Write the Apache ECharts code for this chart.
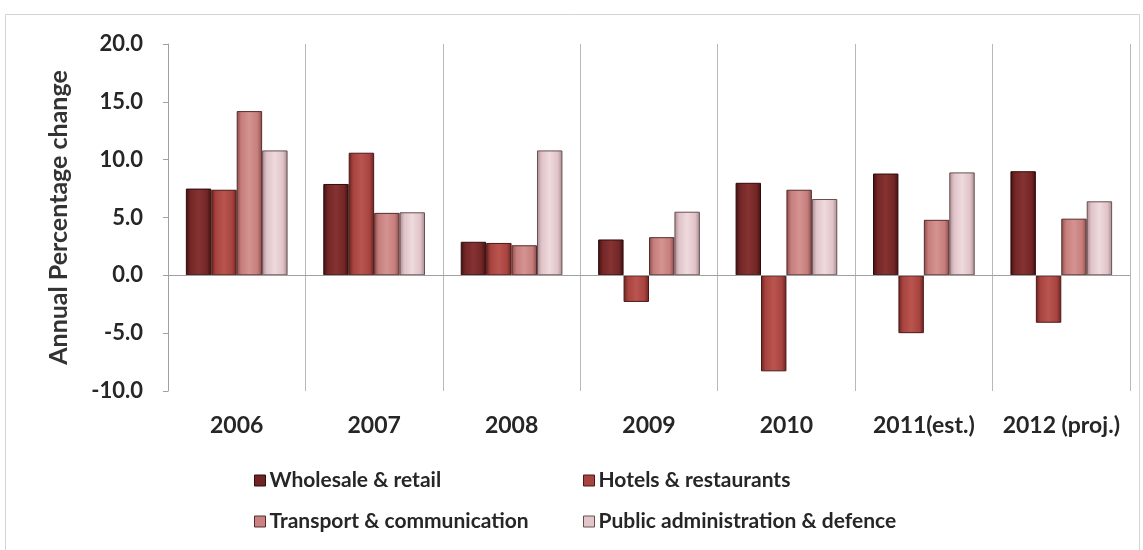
<!DOCTYPE html>
<html>
<head>
<meta charset="utf-8">
<script src="https://cdn.jsdelivr.net/npm/echarts@6/dist/echarts.min.js"></script>
<style>
  html, body { margin: 0; padding: 0; background: #ffffff; }
  #chart { width: 1143px; height: 550px; }
</style>
</head>
<body>
<div id="chart"></div>
<script>
// Annual percentage change by sector
const categories = ['2006', '2007', '2008', '2009', '2010', '2011(est.)', '2012 (proj.)'];
const wholesaleRetail = [7.5, 7.9, 2.9, 3.1, 8.0, 8.8, 9.0];
const hotelsRestaurants = [7.4, 10.6, 2.8, -2.3, -8.3, -5.0, -4.1];
const transportComm = [14.2, 5.4, 2.6, 3.3, 7.4, 4.8, 4.9];
const publicAdminDefence = [10.8, 5.45, 10.8, 5.5, 6.6, 8.9, 6.4];
const seriesNames = ['Wholesale & retail', 'Hotels & restaurants', 'Transport & communication', 'Public administration & defence'];
const yTicks = { min: -10, max: 20, interval: 5 };

const FONT = 'Lato, "Open Sans", sans-serif';

// shaded bar fill: dark edges, lighter centre
function shade(edge, mid, light) {
  return new echarts.graphic.LinearGradient(0, 0, 1, 0, [
    { offset: 0, color: edge },
    { offset: 0.18, color: mid },
    { offset: 0.5, color: light },
    { offset: 0.82, color: mid },
    { offset: 1, color: edge }
  ]);
}
const palettes = [
  { edge: '#3e1010', mid: '#742626', light: '#853232', border: '#2e0c0c' },
  { edge: '#6a2220', mid: '#a8443f', light: '#b9544f', border: '#4a1816' },
  { edge: '#8a4a49', mid: '#c67e7c', light: '#d49391', border: '#562c2c' },
  { edge: '#a68a8e', mid: '#e0c3c8', light: '#eedadd', border: '#66504f' }
];
const dataSets = [wholesaleRetail, hotelsRestaurants, transportComm, publicAdminDefence];

const series = dataSets.map((d, i) => ({
  name: seriesNames[i],
  type: 'bar',
  data: d,
  barGap: '0%',
  barCategoryGap: '26%',
  itemStyle: {
    color: shade(palettes[i].edge, palettes[i].mid, palettes[i].light),
    borderColor: palettes[i].border,
    borderWidth: 1
  },
  emphasis: { disabled: true },
  markLine: i === 0 ? {
    silent: true,
    symbol: 'none',
    label: { show: false },
    lineStyle: { color: '#a0a0a0', width: 1, type: 'solid' },
    data: [{ yAxis: 0 }]
  } : undefined
}));

// one legend block per entry, laid out as a 2 x 2 table
const legendPos = [
  { left: 254, top: 470 },
  { left: 583, top: 470 },
  { left: 254, top: 511 },
  { left: 583, top: 511 }
];
const legendColors = ['#702424', '#a8443f', '#c98280', '#e2c6ca'];
const legends = seriesNames.map((n, i) => ({
  data: [{ name: n, itemStyle: { color: legendColors[i], borderColor: palettes[i].border, borderWidth: 1 } }],
  left: legendPos[i].left,
  top: legendPos[i].top,
  orient: 'horizontal',
  icon: 'rect',
  itemWidth: 11,
  itemHeight: 11,
  itemGap: 4,
  selectedMode: false,
  padding: 0,
  textStyle: { fontFamily: FONT, fontWeight: 'bold', fontSize: 21, color: '#262626', padding: [0, 0, 0, -1] }
}));

const chart = echarts.init(document.getElementById('chart'), null, { renderer: 'canvas' });
chart.setOption({
  backgroundColor: '#ffffff',
  animation: false,
  graphic: [{
    type: 'rect',
    shape: { x: 5.5, y: 14.5, width: 1134, height: 540 },
    style: { fill: 'none', stroke: '#d4d4d4', lineWidth: 1 },
    silent: true,
    z: -1
  }],
  grid: { left: 168, right: 13, top: 44, bottom: 159, containLabel: false },
  legend: legends,
  xAxis: {
    type: 'category',
    data: categories,
    boundaryGap: true,
    axisLine: { show: false, onZero: false },
    axisTick: { show: false, interval: 0 },
    splitLine: { show: true, interval: 0, lineStyle: { color: '#b8b8b8', width: 1 } },
    axisLabel: { interval: 0, hideOverlap: false, margin: 23, fontFamily: FONT, fontWeight: 'bold', fontSize: 23, color: '#262626' }
  },
  yAxis: {
    type: 'value',
    min: yTicks.min,
    max: yTicks.max,
    interval: yTicks.interval,
    name: 'Annual Percentage change',
    nameLocation: 'middle',
    nameGap: 97,
    nameTextStyle: { fontFamily: FONT, fontSize: 25, fontWeight: 'bold', color: '#333333' },
    axisLine: { show: true, lineStyle: { color: '#a0a0a0' } },
    axisTick: { show: true, length: 5, lineStyle: { color: '#a0a0a0' } },
    splitLine: { show: false },
    axisLabel: {
      margin: 25,
      fontFamily: FONT, fontWeight: 'bold', fontSize: 22, color: '#262626',
      formatter: v => v.toFixed(1)
    }
  },
  series: series
});
</script>
</body>
</html>
